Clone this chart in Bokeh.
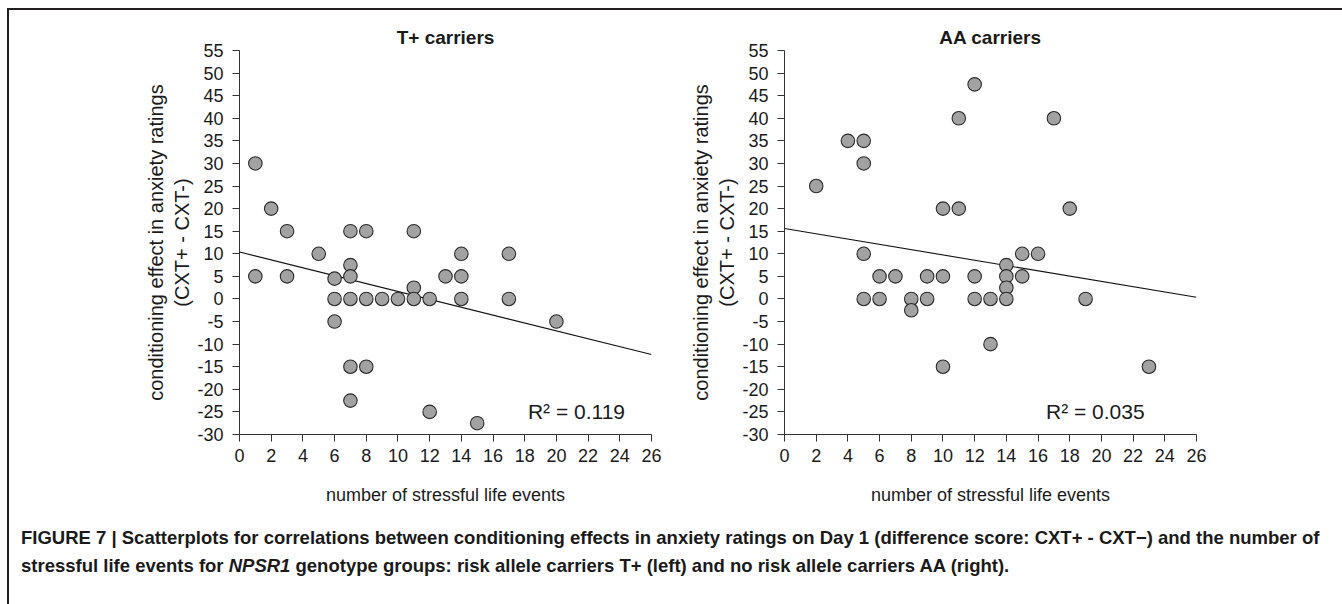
from bokeh.plotting import figure
from bokeh.models import Div, FixedTicker, Label, Range1d
from bokeh.layouts import column, row
from bokeh.embed import file_html
from bokeh.resources import INLINE

# ---------------- data ----------------
tplus_events = [1, 1, 2, 3, 3, 5, 6, 6, 6, 7, 7, 7, 7, 7, 7, 8, 8, 8, 9, 10, 11, 11, 11,
                12, 12, 13, 14, 14, 14, 15, 17, 17, 20]
tplus_effect = [30, 5, 20, 15, 5, 10, 4.5, 0, -5, 15, 7.5, 5, 0, -15, -22.5, 15, 0, -15, 0, 0,
                15, 2.5, 0, 0, -25, 5, 10, 5, 0, -27.5, 10, 0, -5]

aa_events = [2, 4, 5, 5, 5, 5, 6, 6, 7, 8, 8, 9, 9, 10, 10, 10, 11, 11, 12, 12, 12, 13, 13,
             14, 14, 14, 14, 15, 15, 16, 17, 18, 19, 23]
aa_effect = [25, 35, 35, 30, 10, 0, 5, 0, 5, 0, -2.5, 5, 0, 20, 5, -15, 40, 20, 47.5, 5, 0, 0,
             -10, 7.5, 5, 2.5, 0, 10, 5, 10, 40, 20, 0, -15]

# linear trend lines (intercept, slope) as drawn in the reference
tplus_trend = (10.4, -0.873)
aa_trend = (15.6, -0.585)

tplus_r2 = "R\u00b2 = 0.119"
aa_r2 = "R\u00b2 = 0.035"

x_ticks = list(range(0, 28, 2))
y_ticks = list(range(-30, 60, 5))
x_limits = (0, 26)
y_limits = (-30, 55)

FONT = "Liberation Sans"
TXT = "#1a1a1a"
AX = "#333333"


def make_plot(title, xs, ys, trend, r2, r2_x, width, b_left, b_right):
    p = figure(width=width, height=504, output_backend="svg", toolbar_location=None,
               x_range=Range1d(*x_limits), y_range=Range1d(*y_limits),
               min_border_left=b_left, min_border_right=b_right,
               min_border_top=40, min_border_bottom=80,
               title=title)
    p.outline_line_color = None
    p.background_fill_color = "white"
    p.border_fill_color = "white"
    p.xgrid.visible = False
    p.ygrid.visible = False

    p.title.align = "center"
    p.title.text_font = FONT
    p.title.text_font_style = "bold"
    p.title.text_font_size = "19px"
    p.title.text_color = TXT
    p.title.standoff = 6

    for ax in (p.xaxis[0], p.yaxis[0]):
        ax.axis_line_color = AX
        ax.major_tick_line_color = AX
        ax.minor_tick_line_color = None
        ax.major_tick_in = 0
        ax.major_tick_out = 7
        ax.major_label_text_font = FONT
        ax.major_label_text_font_size = "18px"
        ax.major_label_text_color = TXT
        ax.axis_label_text_font = FONT
        ax.axis_label_text_font_style = "normal"
        ax.axis_label_text_color = TXT

    p.xaxis[0].ticker = FixedTicker(ticks=x_ticks)
    p.yaxis[0].ticker = FixedTicker(ticks=y_ticks)
    p.yaxis[0].major_label_overrides = {v: str(v) for v in y_ticks}
    p.xaxis[0].major_label_standoff = 7
    p.yaxis[0].major_label_standoff = 9
    p.xaxis[0].axis_label = "number of stressful life events"
    p.xaxis[0].axis_label_text_font_size = "18px"
    p.xaxis[0].axis_label_standoff = 20
    p.yaxis[0].axis_label = "conditioning effect in anxiety ratings\n(CXT+ - CXT-)"
    p.yaxis[0].axis_label_text_font_size = "20px"
    p.yaxis[0].axis_label_standoff = 1

    b0, b1 = trend
    tx = list(x_limits)
    ty = [b0 + b1 * v for v in tx]
    p.line(tx, ty, line_color="#111111", line_width=1.1)

    p.scatter(xs, ys, size=13.5, fill_color="#a2a2a2", line_color="#2a2a2a", line_width=1.1)

    p.add_layout(Label(x=r2_x, y=-25, text=r2, text_font=FONT, text_font_size="21px",
                       text_color=TXT, text_baseline="middle", text_align="left"))
    return p


left = make_plot("T+ carriers", tplus_events, tplus_effect, tplus_trend, tplus_r2, 18.2,
                 675, 230, 33)
right = make_plot("AA carriers", aa_events, aa_effect, aa_trend, aa_r2, 16.5,
                  649, 100, 137)

caption_html = (
    '<div style="font-family: \'Liberation Sans\', Arial, sans-serif;'
    ' font-weight: bold; font-size: 18.5px; color: #1a1a1a; line-height: 28px;'
    ' padding-left: 7px; padding-top: 5px; white-space: nowrap;">'
    'FIGURE 7 | Scatterplots for correlations between conditioning effects in anxiety ratings on Day 1 '
    '(difference score: CXT+ - CXT\u2212) and the number of<br>'
    'stressful life events for <i>NPSR1</i> genotype groups: risk allele carriers T+ (left) and no risk '
    'allele carriers AA (right).'
    '</div>'
)
caption = Div(text=caption_html, width=1324, height=80)

layout = column(row(left, right), caption,
                styles={"border-top": "2px solid #231f20", "border-left": "2px solid #231f20",
                        "background-color": "white", "margin-left": "7px", "margin-top": "8px"})

open("out.html", "w").write(file_html(layout, INLINE))
